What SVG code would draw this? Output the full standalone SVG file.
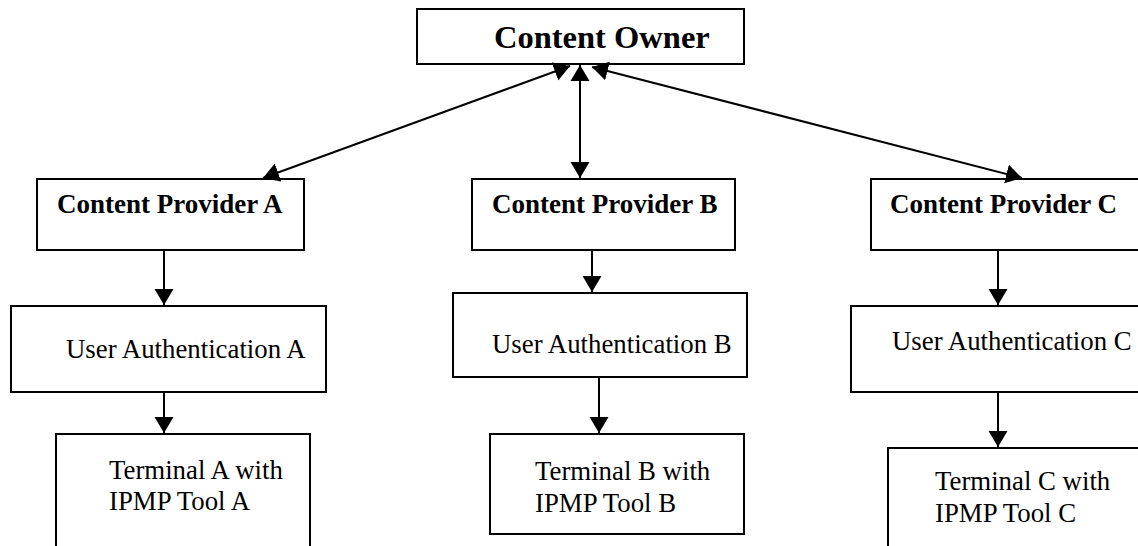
<svg xmlns="http://www.w3.org/2000/svg" width="1138" height="546" viewBox="0 0 1138 546">
  <style>
    .box { fill: #ffffff; stroke: #000000; stroke-width: 2; }
    .wire { fill: none; stroke: #000000; stroke-width: 2; }
    .bold { font-family: "Liberation Serif", "Times New Roman", serif; font-weight: bold; font-size: 27px; fill: #000000; }
    .title { font-family: "Liberation Serif", "Times New Roman", serif; font-weight: bold; font-size: 32.5px; fill: #000000; }
    .plain { font-family: "Liberation Serif", "Times New Roman", serif; font-size: 26.8px; fill: #000000; }
  </style>
  <defs>
    <marker id="head" markerUnits="userSpaceOnUse" markerWidth="17" markerHeight="20" refX="16" refY="10" orient="auto-start-reverse" viewBox="0 0 17 20">
      <path d="M0,0.5 L16,10 L0,19.5 Z" fill="#000000"/>
    </marker>
  </defs>
  <rect width="1138" height="546" fill="#ffffff"/>

  <g id="content-owner">
    <rect class="box" x="417" y="9" width="327" height="55"/>
    <text class="title" x="494" y="48">Content Owner</text>
  </g>

  <g id="provider-a">
    <rect class="box" x="37" y="179" width="267" height="71"/>
    <text class="bold" x="57" y="213">Content Provider A</text>
  </g>
  <g id="provider-b">
    <rect class="box" x="472" y="179" width="263" height="71"/>
    <text class="bold" x="492" y="213">Content Provider B</text>
  </g>
  <g id="provider-c">
    <rect class="box" x="871" y="179" width="270" height="71"/>
    <text class="bold" x="890" y="213">Content Provider C</text>
  </g>

  <g id="auth-a">
    <rect class="box" x="11" y="306" width="315" height="86"/>
    <text class="plain" x="66" y="358">User Authentication A</text>
  </g>
  <g id="auth-b">
    <rect class="box" x="453" y="293" width="294" height="84"/>
    <text class="plain" x="492" y="353">User Authentication B</text>
  </g>
  <g id="auth-c">
    <rect class="box" x="851" y="306" width="290" height="86"/>
    <text class="plain" x="892" y="350">User Authentication C</text>
  </g>

  <g id="terminal-a">
    <rect class="box" x="56" y="434" width="254" height="130"/>
    <text class="plain" x="109" y="479">Terminal A with</text>
    <text class="plain" x="109" y="510">IPMP Tool A</text>
  </g>
  <g id="terminal-b">
    <rect class="box" x="490" y="434" width="254" height="100"/>
    <text class="plain" x="535" y="480">Terminal B with</text>
    <text class="plain" x="535" y="512">IPMP Tool B</text>
  </g>
  <g id="terminal-c">
    <rect class="box" x="888" y="448" width="253" height="120"/>
    <text class="plain" x="935" y="490">Terminal C with</text>
    <text class="plain" x="935" y="522">IPMP Tool C</text>
  </g>

  <g id="connectors">
    <line class="wire" x1="570" y1="66" x2="263" y2="178" marker-start="url(#head)" marker-end="url(#head)"/>
    <line class="wire" x1="580" y1="65" x2="580" y2="178" marker-start="url(#head)" marker-end="url(#head)"/>
    <line class="wire" x1="592" y1="67" x2="1022" y2="178" marker-start="url(#head)" marker-end="url(#head)"/>
    <line class="wire" x1="164" y1="250" x2="164" y2="305" marker-end="url(#head)"/>
    <line class="wire" x1="592" y1="250" x2="592" y2="292" marker-end="url(#head)"/>
    <line class="wire" x1="998" y1="250" x2="998" y2="305" marker-end="url(#head)"/>
    <line class="wire" x1="164" y1="392" x2="164" y2="433" marker-end="url(#head)"/>
    <line class="wire" x1="599" y1="377" x2="599" y2="433" marker-end="url(#head)"/>
    <line class="wire" x1="998" y1="392" x2="998" y2="447" marker-end="url(#head)"/>
  </g>
</svg>
